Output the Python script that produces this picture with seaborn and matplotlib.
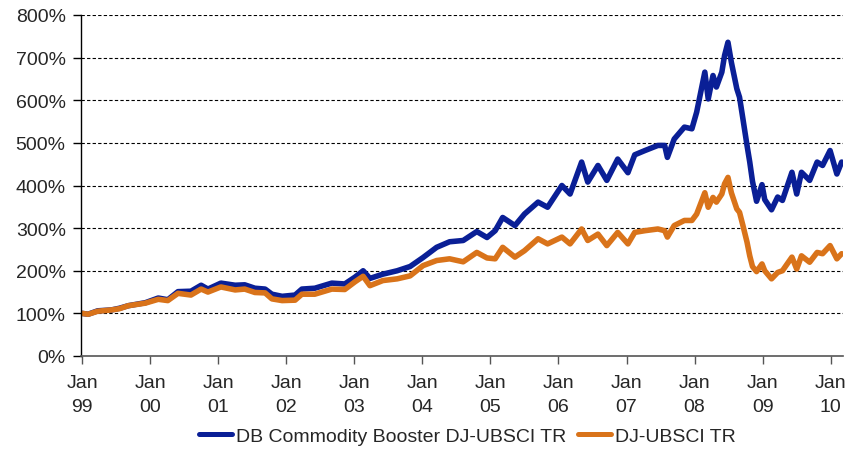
import matplotlib
matplotlib.use("Agg")
import matplotlib.pyplot as plt
import seaborn as sns
import pandas as pd
from matplotlib.ticker import FuncFormatter

# Time in fractional years, index levels in percent (start = 100%)
years = [
    1999.00, 1999.09, 1999.23, 1999.43, 1999.55, 1999.68, 1999.93, 2000.12, 2000.26, 2000.41,
    2000.60, 2000.75, 2000.85, 2001.04, 2001.25, 2001.39, 2001.54, 2001.69, 2001.79, 2001.94,
    2002.13, 2002.23, 2002.42, 2002.67, 2002.86, 2003.01, 2003.13, 2003.23, 2003.42, 2003.63,
    2003.82, 2004.01, 2004.21, 2004.40, 2004.60, 2004.80, 2004.95, 2005.07, 2005.18, 2005.36,
    2005.50, 2005.70, 2005.84, 2006.05, 2006.17, 2006.34, 2006.43, 2006.58, 2006.71, 2006.87,
    2007.02, 2007.12, 2007.27, 2007.46, 2007.56, 2007.60, 2007.70, 2007.85, 2007.96, 2008.03,
    2008.15, 2008.20, 2008.27, 2008.32, 2008.40, 2008.44, 2008.49, 2008.54, 2008.62, 2008.66,
    2008.71, 2008.77, 2008.81, 2008.85, 2008.91, 2008.99, 2009.03, 2009.13, 2009.22, 2009.29,
    2009.43, 2009.50, 2009.57, 2009.69, 2009.80, 2009.88, 2009.99, 2010.09, 2010.16,
]
booster = [
    100, 98, 106, 108, 112, 118, 125, 136, 132, 151,
    152, 166, 157, 171, 166, 167, 159, 157, 145, 140,
    143, 157, 159, 171, 169, 185, 200, 182, 192, 200,
    210, 231, 255, 268, 271, 292, 278, 294, 325, 306,
    333, 361, 349, 400, 380, 455, 408, 447, 412, 462,
    430, 472, 482, 494, 494, 466, 509, 537, 533, 572,
    666, 603, 658, 631, 666, 705, 736, 689, 627, 607,
    556, 494, 455, 410, 363, 402, 367, 343, 373, 365,
    431, 380, 431, 412, 455, 447, 482, 427, 455,
]
ubs = [
    100, 98, 105, 108, 111, 118, 124, 133, 130, 147,
    143, 157, 150, 162, 155, 157, 149, 148, 134, 130,
    131, 145, 145, 157, 156, 174, 187, 165, 177, 181,
    188, 212, 224, 228, 221, 243, 230, 228, 255, 232,
    247, 275, 263, 279, 263, 298, 271, 286, 259, 290,
    263, 290, 294, 298, 294, 279, 306, 318, 318, 333,
    383, 349, 372, 361, 380, 404, 419, 383, 345, 337,
    306, 267, 235, 210, 198, 216, 200, 181, 196, 200,
    232, 204, 235, 220, 243, 240, 259, 228, 240,
]
series_names = ["DB Commodity Booster DJ-UBSCI TR", "DJ-UBSCI TR"]
series_colors = ["#0A1F96", "#D9731A"]
tick_years = list(range(1999, 2011))
tick_labels = [f"Jan\n{y % 100:02d}" for y in tick_years]
y_ticks = list(range(0, 900, 100))

df = pd.DataFrame({
    "year": years * 2,
    "value": booster + ubs,
    "series": [series_names[0]] * len(years) + [series_names[1]] * len(years),
})

sns.set_theme(style="white")
plt.rcParams["font.family"] = ["Liberation Sans", "DejaVu Sans"]

fig = plt.figure(figsize=(8.5, 4.64), dpi=100)
ax = fig.add_axes([81 / 850, 1 - 357 / 464, (843 - 81) / 850, (357 - 16) / 464])

sns.lineplot(data=df, x="year", y="value", hue="series", hue_order=series_names,
             palette=series_colors, linewidth=4.0, ax=ax, legend=True, sort=False)

ax.set_xlim(1998.985, 2010.18)
ax.set_ylim(0, 800)
ax.set_xticks(tick_years)
ax.set_xticklabels(tick_labels)
ax.set_yticks(y_ticks)
ax.yaxis.set_major_formatter(FuncFormatter(lambda v, p: f"{int(v)}%"))
ax.set_xlabel("")
ax.set_ylabel("")

for v in y_ticks[1:]:
    ax.axhline(v, color="black", linestyle=(0, (3, 2)), linewidth=0.8, zorder=0)

for s in ["top", "right"]:
    ax.spines[s].set_visible(False)
ax.spines["left"].set_color("black")
ax.spines["left"].set_linewidth(1.0)
ax.spines["bottom"].set_color("#555555")
ax.spines["bottom"].set_linewidth(1.2)

ax.tick_params(axis="y", which="major", direction="out", length=6, width=1,
               color="black", labelsize=14, pad=5, left=True)
ax.tick_params(axis="x", which="major", direction="out", length=6, width=1,
               color="#555555", labelsize=14, pad=7, bottom=True)
for lbl in ax.get_xticklabels():
    lbl.set_linespacing(1.5)

handles, labels = ax.get_legend_handles_labels()
ax.legend(handles, labels, loc="center", bbox_to_anchor=(0.55, 1 - 437 / 464),
          bbox_transform=fig.transFigure, ncol=2, frameon=False, fontsize=14,
          handlelength=1.7, handletextpad=0.2, columnspacing=0.6)
for line in ax.get_legend().get_lines():
    line.set_linewidth(3.6)

fig.savefig("out.png", dpi=100)
